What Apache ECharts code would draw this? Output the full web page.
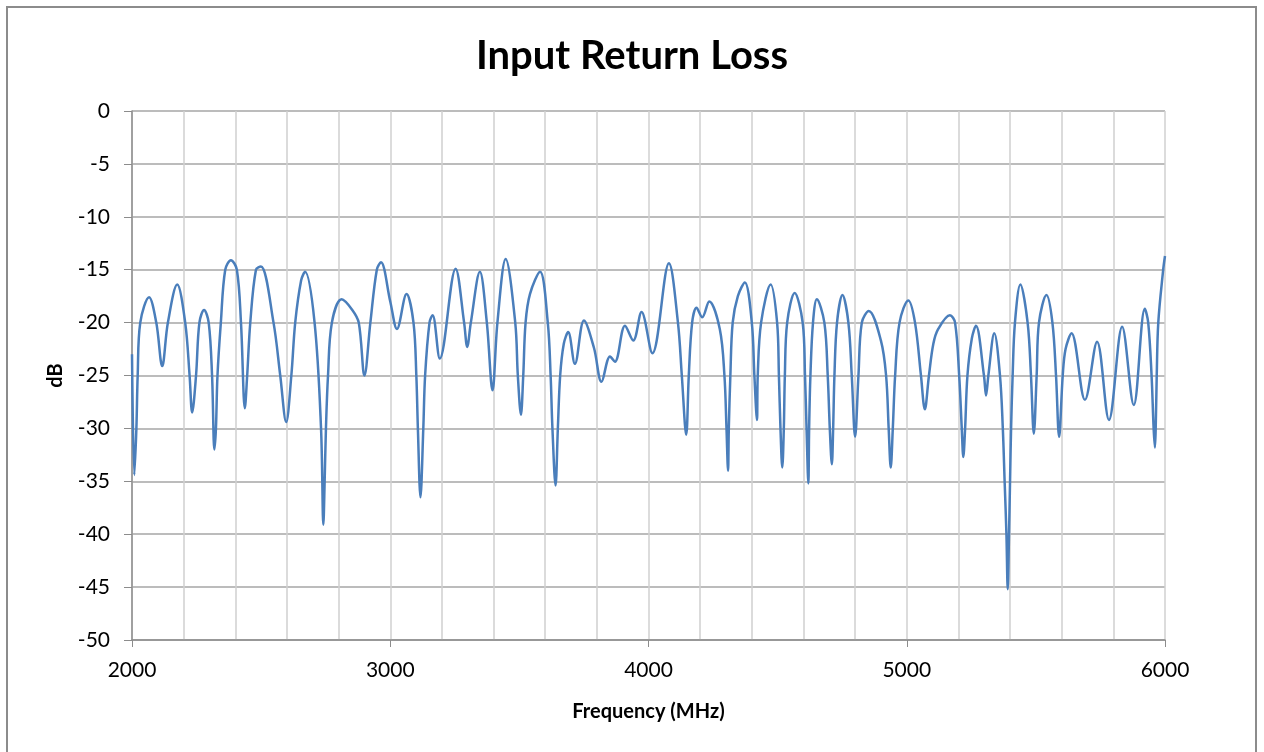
<!DOCTYPE html>
<html>
<head>
<meta charset="utf-8">
<script src="https://cdn.jsdelivr.net/npm/echarts@6/dist/echarts.min.js"></script>
<style>
  html, body { margin: 0; padding: 0; background: #fff; }
  #chart { width: 1264px; height: 752px; }
</style>
</head>
<body>
<div id="chart"></div>
<script>
// frequency points (MHz) and return loss (dB)
var freqs = [
  2000, 2009, 2017, 2022, 2032, 2066, 2094, 2117, 2139, 2175,
  2206, 2223, 2233, 2248, 2261, 2279, 2297, 2310, 2319, 2325,
  2331, 2344, 2361, 2383, 2406, 2422, 2437, 2446, 2458, 2480,
  2499, 2548, 2574, 2597, 2617, 2632, 2655, 2670, 2707, 2732,
  2741, 2746, 2751, 2759, 2774, 2812, 2853, 2878, 2900, 2923,
  2948, 2964, 3000, 3026, 3063, 3090, 3101, 3107, 3117, 3128,
  3135, 3152, 3164, 3192, 3253, 3286, 3298, 3312, 3347, 3374,
  3396, 3415, 3447, 3484, 3494, 3506, 3515, 3524, 3541, 3580,
  3610, 3621, 3628, 3640, 3649, 3658, 3672, 3689, 3715, 3750,
  3789, 3818, 3851, 3870, 3909, 3941, 3973, 4015, 4079, 4114,
  4129, 4146, 4156, 4169, 4186, 4208, 4235, 4276, 4294, 4302,
  4308, 4311, 4317, 4326, 4346, 4373, 4400, 4410, 4420, 4423,
  4436, 4473, 4498, 4505, 4511, 4518, 4524, 4528, 4537, 4566,
  4597, 4606, 4612, 4619, 4622, 4627, 4637, 4652, 4681, 4694,
  4702, 4710, 4715, 4720, 4730, 4751, 4774, 4787, 4800, 4813,
  4826, 4853, 4900, 4920, 4930, 4938, 4946, 4955, 4972, 5006,
  5032, 5055, 5070, 5086, 5103, 5122, 5167, 5187, 5203, 5213,
  5219, 5226, 5235, 5252, 5268, 5299, 5307, 5316, 5339, 5361,
  5372, 5379, 5386, 5391, 5396, 5400, 5404, 5410, 5419, 5440,
  5468, 5481, 5492, 5503, 5512, 5541, 5564, 5578, 5590, 5604,
  5615, 5638, 5690, 5737, 5783, 5834, 5879, 5922, 5935, 5948,
  5956, 5961, 5964, 5968, 5974, 5993, 6000
];
var lossDb = [
  -23.0, -34.4, -30.0, -25.0, -20.0, -17.6, -20.0, -24.1, -20.0, -16.4,
  -20.0, -25.0, -28.5, -25.0, -20.0, -18.8, -20.0, -25.0, -32.0, -30.0,
  -25.0, -20.0, -15.0, -14.1, -15.0, -20.0, -28.1, -25.0, -20.0, -15.0,
  -14.7, -20.0, -25.0, -29.4, -25.0, -20.0, -16.0, -15.2, -20.0, -30.0,
  -39.1, -35.0, -30.0, -25.0, -20.0, -17.8, -18.8, -20.0, -25.0, -20.0,
  -15.0, -14.3, -18.0, -20.6, -17.3, -20.0, -25.0, -30.0, -36.5, -30.0,
  -25.0, -20.0, -19.3, -23.4, -14.9, -20.0, -22.3, -20.0, -15.2, -20.0,
  -26.4, -20.0, -14.0, -20.0, -25.0, -28.7, -25.0, -20.0, -17.3, -15.2,
  -20.0, -25.0, -30.0, -35.4, -30.0, -25.0, -22.0, -20.9, -23.9, -19.8,
  -22.4, -25.6, -23.2, -23.7, -20.3, -21.7, -19.0, -22.9, -14.4, -20.0,
  -25.0, -30.6, -25.0, -20.0, -18.6, -19.5, -18.0, -20.6, -25.0, -30.0,
  -34.0, -30.0, -25.0, -20.0, -17.5, -16.2, -20.0, -25.0, -29.2, -25.0,
  -20.0, -16.4, -20.0, -25.0, -30.0, -33.7, -30.0, -25.0, -20.0, -17.2,
  -20.0, -25.0, -30.0, -35.2, -30.0, -25.0, -20.0, -17.8, -20.0, -25.0,
  -30.0, -33.4, -30.0, -25.0, -20.0, -17.4, -20.0, -25.0, -30.8, -25.0,
  -20.0, -18.9, -21.7, -25.0, -30.0, -33.7, -30.0, -25.0, -20.0, -17.9,
  -20.0, -25.0, -28.2, -25.0, -22.0, -20.6, -19.3, -20.0, -25.0, -30.0,
  -32.7, -30.0, -25.0, -21.5, -20.3, -25.0, -26.9, -25.0, -21.0, -25.0,
  -30.0, -35.0, -40.0, -45.2, -40.0, -35.0, -30.0, -25.0, -20.0, -16.4,
  -20.0, -25.0, -30.5, -25.0, -20.0, -17.4, -20.0, -25.0, -30.8, -25.0,
  -22.5, -21.0, -27.3, -21.8, -29.2, -20.4, -27.8, -18.7, -20.0, -25.0,
  -30.0, -31.8, -30.0, -25.0, -20.0, -15.0, -13.7
];
var yTicks = [0, -5, -10, -15, -20, -25, -30, -35, -40, -45, -50];

var points = [];
for (var i = 0; i < freqs.length; i++) {
  points.push([freqs[i], lossDb[i]]);
}

var chart = echarts.init(document.getElementById('chart'));

var options = {
  animation: false,
  backgroundColor: '#fff',
  title: {
    text: 'Input Return Loss',
    left: 'center',
    top: 31,
    textStyle: { fontFamily: 'Lato', fontWeight: 'bold', fontSize: 40, color: '#000' }
  },
  graphic: [{
    type: 'rect',
    shape: { x: 7, y: 7, width: 1249, height: 760 },
    style: { fill: 'none', stroke: '#8c8c8c', lineWidth: 2 }
  }],
  grid: { left: 132, right: 99, top: 111, bottom: 112 },
  xAxis: {
    type: 'value',
    min: 2000, max: 6000, interval: 1000,
    name: 'Frequency (MHz)',
    nameLocation: 'middle',
    nameGap: 62,
    nameTextStyle: { fontFamily: 'Lato', fontWeight: 'bold', fontSize: 20, color: '#000' },
    axisLine: { onZero: false, lineStyle: { color: '#8c8c8c', width: 1.5 } },
    axisTick: { show: true, length: 7, lineStyle: { color: '#8c8c8c' } },
    minorTick: { show: false, splitNumber: 5 },
    splitLine: { lineStyle: { color: '#d0d0d0', width: 1.5 } },
    minorSplitLine: { show: true, lineStyle: { color: '#d0d0d0', width: 1.5 } },
    axisLabel: {
      fontFamily: 'Lato', fontSize: 21, color: '#000', margin: 20,
      formatter: function (v) { return String(v); }
    }
  },
  yAxis: {
    type: 'value',
    min: -50, max: 0, interval: 5,
    name: 'dB',
    nameLocation: 'middle',
    nameGap: 66,
    nameTextStyle: { fontFamily: 'Lato', fontWeight: 'bold', fontSize: 20, color: '#000' },
    axisLine: { show: true, onZero: false, lineStyle: { color: '#8c8c8c', width: 1.5 } },
    axisTick: { show: true, length: 8, lineStyle: { color: '#8c8c8c' } },
    splitLine: { lineStyle: { color: '#a6a6a6', width: 1.5 } },
    axisLabel: {
      fontFamily: 'Lato', fontSize: 21, color: '#000', margin: 22,
      formatter: function (v) { return yTicks.indexOf(v) > -1 ? String(v) : ''; }
    }
  },
  series: [{
    type: 'line',
    data: points,
    smooth: 0.35,
    showSymbol: false,
    lineStyle: { color: '#4a7ebb', width: 2.5 }
  }]
};

chart.setOption(options);
</script>
</body>
</html>
